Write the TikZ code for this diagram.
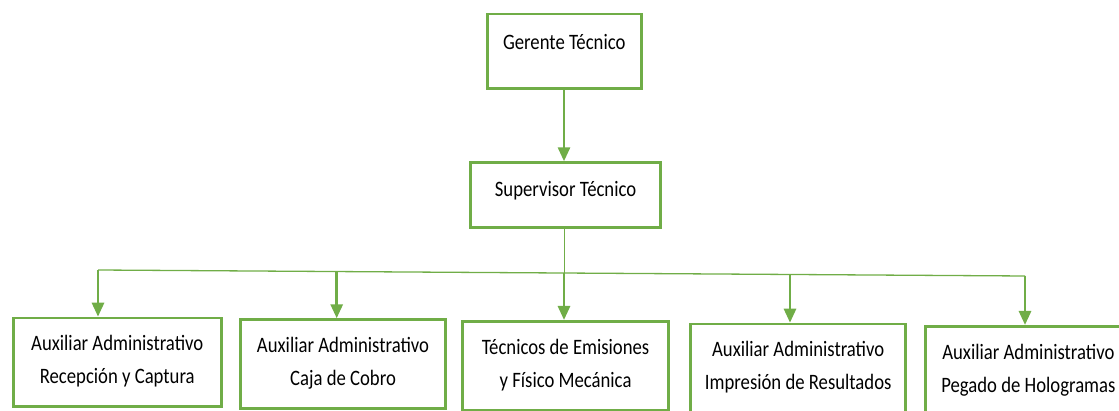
\documentclass[tikz,border=0pt]{standalone}
\usepackage{fontspec}
\setmainfont{Carlito}[FakeStretch=0.85]
\usetikzlibrary{arrows.meta}
\definecolor{grn}{HTML}{70AD47}
\tikzset{
  box/.style={draw=grn, line width=2.8pt, rectangle, anchor=north west, inner sep=0pt,
    font=\fontsize{22}{33}\selectfont, align=center},
  topbox/.style={box, text height=10pt},
  lowbox/.style={box, minimum height=88.6pt, text height=47pt, text depth=4pt},
  conn/.style={draw=grn, line width=2.8pt, -{Triangle[width=12pt,length=14pt]}},
  thin/.style={draw=grn, line width=1.3pt}
}
\begin{document}
\begin{tikzpicture}[x=1pt,y=-1pt]
\useasboundingbox (0,0) rectangle (1119,411);
\clip (0,0) rectangle (1119,411);
% top boxes
\node[topbox, minimum width=154.3pt, minimum height=74.6pt, text depth=13.4pt] (g) at (485.7,12.7) {Gerente Técnico};
\node[topbox, minimum width=189.7pt, minimum height=64.7pt, text depth=7.4pt] (s) at (469.3,161.3) {Supervisor Técnico};
% bottom boxes
\node[lowbox, minimum width=208.3pt] (b1) at (11.7,316.7) {Auxiliar Administrativo\\Recepción y Captura};
\node[lowbox, minimum width=204.7pt] (b2) at (239.3,318.3) {Auxiliar Administrativo\\Caja de Cobro};
\node[lowbox, minimum width=206.3pt] (b3) at (461,320) {Técnicos de Emisiones\\y Físico Mecánica};
\node[lowbox, minimum width=215pt] (b4) at (689.3,322.7) {Auxiliar Administrativo\\Impresión de Resultados};
\node[lowbox, minimum width=206pt] (b5) at (924,325) {Auxiliar Administrativo\\Pegado de Hologramas};
% bus coordinates
\coordinate (a1) at (98,270);
\coordinate (a2) at (336.7,271.5);
\coordinate (a3) at (564,273);
\coordinate (a4) at (790,274.5);
\coordinate (a5) at (1025,276);
% connectors
\draw[conn] (g.south -| a3) -- (s.north -| a3);
\draw[draw=grn, line width=0.9pt] (s.south -| a3) -- (a3);
\draw[thin] (a1) -- (a5);
\draw[conn] (a1) -- (a1 |- b1.north);
\draw[conn] (a2) -- (a2 |- b2.north);
\draw[conn] (a3) -- (a3 |- b3.north);
\draw[conn] (a4) -- (a4 |- b4.north);
\draw[conn] (a5) -- (a5 |- b5.north);
\end{tikzpicture}
\end{document}
